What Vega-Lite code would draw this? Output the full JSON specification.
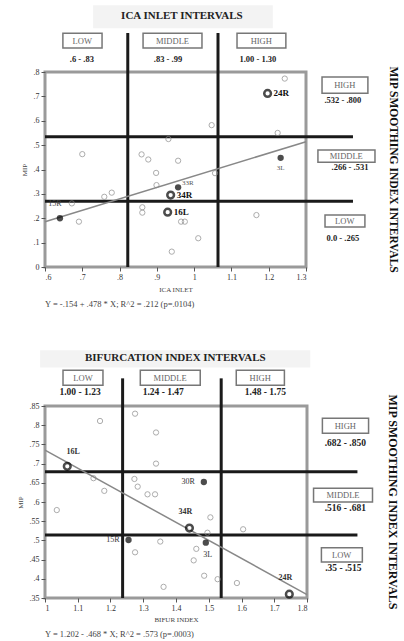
{
  "$schema": "https://vega.github.io/schema/vega-lite/v6.json",
  "autosize": {"type": "none"},
  "padding": {"left": 45, "top": 72, "right": 359, "bottom": 569},
  "background": "white",
  "spacing": 139,
  "bounds": "flush",
  "config": {
    "font": "Liberation Serif",
    "view": {"stroke": "#9a9a9a", "strokeWidth": 3},
    "axis": {"domain": false, "grid": false, "labelFont": "Liberation Serif", "labelFontSize": 8, "labelColor": "#333", "tickColor": "#555", "tickSize": 4, "titleFont": "Liberation Serif", "titleFontSize": 7, "titleFontWeight": "normal", "titleColor": "#444"}
  },
  "vconcat": [
    {
      "width": 261,
      "height": 195,
      "encoding": {
        "x": {"field": "x", "type": "quantitative", "scale": {"domain": [0.6, 1.3], "nice": false, "zero": false},
              "axis": {"values": [0.6, 0.7, 0.8, 0.9, 1, 1.1, 1.2, 1.3], "labelExpr": "replace(format(datum.value,'~g'),'0.','.')", "title": "ICA INLET", "titlePadding": 4}},
        "y": {"field": "y", "type": "quantitative", "scale": {"domain": [0, 0.8], "nice": false, "zero": false},
              "axis": {"values": [0, 0.1, 0.2, 0.3, 0.4, 0.5, 0.6, 0.7, 0.8], "labelExpr": "replace(format(datum.value,'~g'),'0.','.')", "title": "MIP", "titlePadding": 6}}
      },
      "layer": [
        {
          "data": {"values": [{"x": 0.729, "x2": 1.211, "y": 1.074, "y2": 0.98}]},
          "mark": {"type": "rect", "fill": "#f3f3f3", "stroke": null},
          "encoding": {"x2": {"field": "x2"}, "y2": {"field": "y2"}}
        },
        {
          "data": {"values": [
            {"x": 0.648, "x2": 0.753, "y": 0.959, "y2": 0.898},
            {"x": 0.863, "x2": 1.021, "y": 0.959, "y2": 0.898},
            {"x": 1.115, "x2": 1.246, "y": 0.959, "y2": 0.898},
            {"x": 1.343, "x2": 1.466, "y": 0.779, "y2": 0.713},
            {"x": 1.332, "x2": 1.485, "y": 0.480, "y2": 0.430},
            {"x": 1.351, "x2": 1.458, "y": 0.213, "y2": 0.164}
          ]},
          "mark": {"type": "rect", "fill": "white", "stroke": "#777", "strokeWidth": 1.5},
          "encoding": {"x2": {"field": "x2"}, "y2": {"field": "y2"}}
        },
        {
          "data": {"values": [
            {"x": 0.7, "y": 0.928, "t": "LOW"},
            {"x": 0.942, "y": 0.928, "t": "MIDDLE"},
            {"x": 1.18, "y": 0.928, "t": "HIGH"},
            {"x": 1.404, "y": 0.746, "t": "HIGH"},
            {"x": 1.408, "y": 0.455, "t": "MIDDLE"},
            {"x": 1.404, "y": 0.188, "t": "LOW"}
          ]},
          "mark": {"type": "text", "fontSize": 8.5, "color": "#666", "baseline": "middle", "align": "center"},
          "encoding": {"text": {"field": "t"}}
        },
        {
          "data": {"values": [
            {"x": 0.699, "y": 0.852, "t": ".6 - .83"},
            {"x": 0.93, "y": 0.852, "t": ".83 - .99"},
            {"x": 1.171, "y": 0.852, "t": "1.00 - 1.30"},
            {"x": 1.399, "y": 0.684, "t": ".532 - .800"},
            {"x": 1.418, "y": 0.41, "t": ".266 - .531"},
            {"x": 1.399, "y": 0.119, "t": "0.0 - .265"}
          ]},
          "mark": {"type": "text", "fontSize": 8.5, "fontWeight": "bold", "color": "#222", "baseline": "middle", "align": "center"},
          "encoding": {"text": {"field": "t"}}
        },
        {
          "data": {"values": [{"x": 0.967, "y": 1.029, "t": "ICA INLET INTERVALS"}]},
          "mark": {"type": "text", "fontSize": 11, "fontWeight": "bold", "color": "#222", "baseline": "middle", "align": "center"},
          "encoding": {"text": {"field": "t"}}
        },
        {
          "data": {"values": [{"x": 1.534, "y": 0.4, "t": "MIP SMOOTHING INDEX INTERVALS"}]},
          "mark": {"type": "text", "fontSize": 11.5, "fontWeight": "bold", "color": "#111", "baseline": "middle", "align": "center", "angle": 90},
          "encoding": {"text": {"field": "t"}}
        },
        {
          "data": {"values": [{"x": 0.6, "y": -0.152, "t": "Y = -.154 + .478 * X; R^2 = .212 (p=.0104)"}]},
          "mark": {"type": "text", "fontSize": 8.5, "color": "#444", "baseline": "middle", "align": "left"},
          "encoding": {"text": {"field": "t"}}
        },
        {
          "data": {"values": [
            {"x": 0.822, "x2": 0.822, "y": 0, "y2": 0.96},
            {"x": 1.064, "x2": 1.064, "y": 0, "y2": 0.96},
            {"x": 0.6, "x2": 1.426, "y": 0.534, "y2": 0.534},
            {"x": 0.6, "x2": 1.426, "y": 0.27, "y2": 0.27}
          ]},
          "mark": {"type": "rule", "strokeWidth": 3, "color": "#1a1a1a"},
          "encoding": {"x2": {"field": "x2"}, "y2": {"field": "y2"}}
        },
        {
          "data": {"values": [{"x": 0.6, "y": 0.186}, {"x": 1.3, "y": 0.514}]},
          "mark": {"type": "line", "color": "#888", "strokeWidth": 1.5}
        },
        {
          "data": {"values": [
            {"x": 1.243, "y": 0.773}, {"x": 1.047, "y": 0.582}, {"x": 1.224, "y": 0.55}, {"x": 0.931, "y": 0.525},
            {"x": 0.70, "y": 0.463}, {"x": 0.859, "y": 0.462}, {"x": 0.877, "y": 0.441}, {"x": 0.957, "y": 0.436},
            {"x": 0.898, "y": 0.386}, {"x": 0.899, "y": 0.336}, {"x": 0.779, "y": 0.305}, {"x": 0.759, "y": 0.288},
            {"x": 0.672, "y": 0.261}, {"x": 0.691, "y": 0.186}, {"x": 0.861, "y": 0.245}, {"x": 0.861, "y": 0.223},
            {"x": 0.965, "y": 0.186}, {"x": 0.975, "y": 0.186}, {"x": 1.011, "y": 0.118}, {"x": 0.94, "y": 0.063},
            {"x": 1.167, "y": 0.213}, {"x": 1.056, "y": 0.385}
          ]},
          "mark": {"type": "point", "shape": "circle", "filled": false, "stroke": "#8a8a8a", "strokeWidth": 1, "size": 28}
        },
        {
          "data": {"values": [
            {"x": 1.232, "y": 0.448, "label": "3L"},
            {"x": 0.957, "y": 0.327, "label": "33R"},
            {"x": 0.64, "y": 0.2, "label": "15R"},
            {"x": 1.197, "y": 0.712, "label": "24R"},
            {"x": 0.937, "y": 0.295, "label": "34R"},
            {"x": 0.929, "y": 0.225, "label": "16L"}
          ]},
          "layer": [
            {"transform": [{"filter": "indexof(['3L','33R','15R'], datum.label) >= 0"}],
             "mark": {"type": "point", "shape": "circle", "filled": true, "color": "black", "size": 40}},
            {"transform": [{"filter": "indexof(['24R','34R','16L'], datum.label) >= 0"}],
             "mark": {"type": "point", "shape": "circle", "filled": true, "fill": "white", "stroke": "black", "strokeWidth": 2.5, "size": 45}},
            {"transform": [{"filter": "indexof(['24R','34R','16L'], datum.label) >= 0"}],
             "mark": {"type": "text", "fontSize": 9, "fontWeight": "bold", "align": "left", "baseline": "middle", "dx": 6, "color": "#111"},
             "encoding": {"text": {"field": "label"}}},
            {"transform": [{"filter": "datum.label == '33R'"}],
             "mark": {"type": "text", "fontSize": 7, "align": "left", "baseline": "middle", "dx": 4, "dy": -4, "color": "#555"},
             "encoding": {"text": {"field": "label"}}},
            {"transform": [{"filter": "datum.label == '3L'"}],
             "mark": {"type": "text", "fontSize": 7, "align": "center", "baseline": "middle", "dy": 10, "color": "#555"},
             "encoding": {"text": {"field": "label"}}},
            {"transform": [{"filter": "datum.label == '15R'"}],
             "mark": {"type": "text", "fontSize": 8, "align": "center", "baseline": "middle", "dx": -5, "dy": -14, "color": "#444"},
             "encoding": {"text": {"field": "label"}}}
          ]
        }
      ]
    },
    {
      "width": 262,
      "height": 192,
      "encoding": {
        "x": {"field": "x", "type": "quantitative", "scale": {"domain": [1, 1.8], "nice": false, "zero": false},
              "axis": {"values": [1, 1.1, 1.2, 1.3, 1.4, 1.5, 1.6, 1.7, 1.8], "labelExpr": "format(datum.value,'~g')", "title": "BIFUR INDEX", "titlePadding": 3}},
        "y": {"field": "y", "type": "quantitative", "scale": {"domain": [0.35, 0.85], "nice": false, "zero": false},
              "axis": {"values": [0.35, 0.4, 0.45, 0.5, 0.55, 0.6, 0.65, 0.7, 0.75, 0.8, 0.85], "labelExpr": "replace(format(datum.value,'~g'),'0.','.')", "title": "MIP", "titlePadding": 6}}
      },
      "layer": [
        {
          "data": {"values": [{"x": 0.985, "x2": 1.81, "y": 0.995, "y2": 0.95}]},
          "mark": {"type": "rect", "fill": "#f3f3f3", "stroke": null},
          "encoding": {"x2": {"field": "x2"}, "y2": {"field": "y2"}}
        },
        {
          "data": {"values": [
            {"x": 1.055, "x2": 1.177, "y": 0.943, "y2": 0.904},
            {"x": 1.291, "x2": 1.474, "y": 0.943, "y2": 0.904},
            {"x": 1.584, "x2": 1.731, "y": 0.943, "y2": 0.904},
            {"x": 1.847, "x2": 1.988, "y": 0.818, "y2": 0.779},
            {"x": 1.82, "x2": 2.0, "y": 0.636, "y2": 0.6},
            {"x": 1.844, "x2": 1.969, "y": 0.481, "y2": 0.444}
          ]},
          "mark": {"type": "rect", "fill": "white", "stroke": "#777", "strokeWidth": 1.5},
          "encoding": {"x2": {"field": "x2"}, "y2": {"field": "y2"}}
        },
        {
          "data": {"values": [
            {"x": 1.116, "y": 0.924, "t": "LOW"},
            {"x": 1.382, "y": 0.924, "t": "MIDDLE"},
            {"x": 1.657, "y": 0.924, "t": "HIGH"},
            {"x": 1.917, "y": 0.799, "t": "HIGH"},
            {"x": 1.91, "y": 0.618, "t": "MIDDLE"},
            {"x": 1.906, "y": 0.463, "t": "LOW"}
          ]},
          "mark": {"type": "text", "fontSize": 8.5, "color": "#666", "baseline": "middle", "align": "center"},
          "encoding": {"text": {"field": "t"}}
        },
        {
          "data": {"values": [
            {"x": 1.107, "y": 0.886, "t": "1.00 - 1.23"},
            {"x": 1.361, "y": 0.886, "t": "1.24 - 1.47"},
            {"x": 1.673, "y": 0.886, "t": "1.48 - 1.75"},
            {"x": 1.917, "y": 0.753, "t": ".682 - .850"},
            {"x": 1.917, "y": 0.584, "t": ".516 - .681"},
            {"x": 1.911, "y": 0.429, "t": ".35 - .515"}
          ]},
          "mark": {"type": "text", "fontSize": 9.5, "fontWeight": "bold", "color": "#222", "baseline": "middle", "align": "center"},
          "encoding": {"text": {"field": "t"}}
        },
        {
          "data": {"values": [{"x": 1.398, "y": 0.976, "t": "BIFURCATION INDEX  INTERVALS"}]},
          "mark": {"type": "text", "fontSize": 11, "fontWeight": "bold", "color": "#222", "baseline": "middle", "align": "center"},
          "encoding": {"text": {"field": "t"}}
        },
        {
          "data": {"values": [{"x": 2.064, "y": 0.6, "t": "MIP SMOOTHING INDEX INTERVALS"}]},
          "mark": {"type": "text", "fontSize": 12, "fontWeight": "bold", "color": "#111", "baseline": "middle", "align": "center", "angle": 90},
          "encoding": {"text": {"field": "t"}}
        },
        {
          "data": {"values": [{"x": 1.0, "y": 0.255, "t": "Y = 1.202 - .468 * X; R^2 = .573 (p=.0003)"}]},
          "mark": {"type": "text", "fontSize": 8.5, "color": "#444", "baseline": "middle", "align": "left"},
          "encoding": {"text": {"field": "t"}}
        },
        {
          "data": {"values": [
            {"x": 1.237, "x2": 1.237, "y": 0.35, "y2": 0.922},
            {"x": 1.538, "x2": 1.538, "y": 0.35, "y2": 0.922},
            {"x": 1.0, "x2": 1.954, "y": 0.679, "y2": 0.679},
            {"x": 1.0, "x2": 1.954, "y": 0.514, "y2": 0.514}
          ]},
          "mark": {"type": "rule", "strokeWidth": 3, "color": "#1a1a1a"},
          "encoding": {"x2": {"field": "x2"}, "y2": {"field": "y2"}}
        },
        {
          "data": {"values": [{"x": 1.0, "y": 0.735}, {"x": 1.8, "y": 0.359}]},
          "mark": {"type": "line", "color": "#888", "strokeWidth": 1.5}
        },
        {
          "data": {"values": [
            {"x": 1.275, "y": 0.83}, {"x": 1.168, "y": 0.811}, {"x": 1.339, "y": 0.781}, {"x": 1.339, "y": 0.7},
            {"x": 1.148, "y": 0.662}, {"x": 1.181, "y": 0.629}, {"x": 1.273, "y": 0.66}, {"x": 1.283, "y": 0.64},
            {"x": 1.313, "y": 0.62}, {"x": 1.336, "y": 0.62}, {"x": 1.036, "y": 0.579}, {"x": 1.505, "y": 0.56},
            {"x": 1.496, "y": 0.52}, {"x": 1.605, "y": 0.529}, {"x": 1.352, "y": 0.497}, {"x": 1.462, "y": 0.478},
            {"x": 1.275, "y": 0.469}, {"x": 1.454, "y": 0.448}, {"x": 1.486, "y": 0.408}, {"x": 1.527, "y": 0.399},
            {"x": 1.586, "y": 0.389}, {"x": 1.362, "y": 0.379}
          ]},
          "mark": {"type": "point", "shape": "circle", "filled": false, "stroke": "#8a8a8a", "strokeWidth": 1, "size": 28}
        },
        {
          "data": {"values": [
            {"x": 1.485, "y": 0.652, "label": "30R"},
            {"x": 1.255, "y": 0.501, "label": "15R"},
            {"x": 1.491, "y": 0.494, "label": "3L"},
            {"x": 1.068, "y": 0.693, "label": "16L"},
            {"x": 1.441, "y": 0.532, "label": "34R"},
            {"x": 1.746, "y": 0.36, "label": "24R"}
          ]},
          "layer": [
            {"transform": [{"filter": "indexof(['30R','15R','3L'], datum.label) >= 0"}],
             "mark": {"type": "point", "shape": "circle", "filled": true, "color": "black", "size": 40}},
            {"transform": [{"filter": "indexof(['16L','34R','24R'], datum.label) >= 0"}],
             "mark": {"type": "point", "shape": "circle", "filled": true, "fill": "white", "stroke": "black", "strokeWidth": 2.5, "size": 45}},
            {"transform": [{"filter": "datum.label == '16L'"}],
             "mark": {"type": "text", "fontSize": 8, "fontWeight": "bold", "align": "center", "baseline": "middle", "dx": 6, "dy": -14, "color": "#333"},
             "encoding": {"text": {"field": "label"}}},
            {"transform": [{"filter": "datum.label == '34R' || datum.label == '24R'"}],
             "mark": {"type": "text", "fontSize": 8, "fontWeight": "bold", "align": "center", "baseline": "middle", "dx": -4, "dy": -16, "color": "#333"},
             "encoding": {"text": {"field": "label"}}},
            {"transform": [{"filter": "datum.label == '30R' || datum.label == '15R'"}],
             "mark": {"type": "text", "fontSize": 8, "align": "right", "baseline": "middle", "dx": -9, "color": "#333"},
             "encoding": {"text": {"field": "label"}}},
            {"transform": [{"filter": "datum.label == '3L'"}],
             "mark": {"type": "text", "fontSize": 8, "align": "center", "baseline": "middle", "dx": 2, "dy": 12, "color": "#333"},
             "encoding": {"text": {"field": "label"}}}
          ]
        }
      ]
    }
  ]
}
